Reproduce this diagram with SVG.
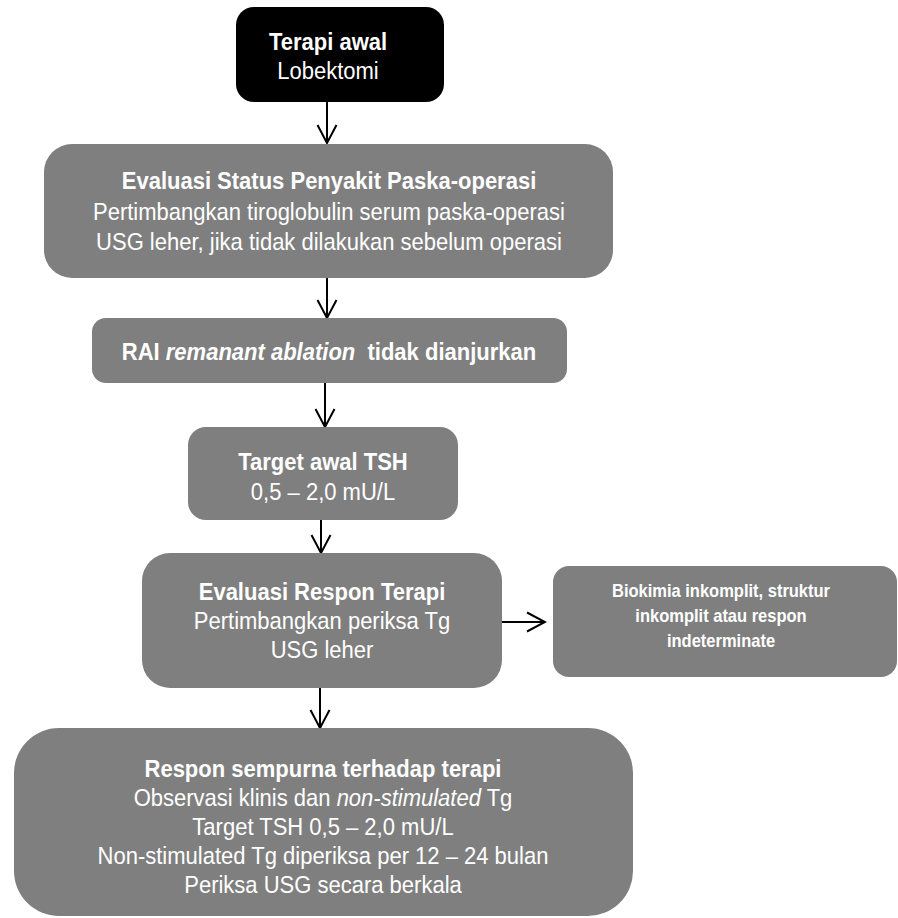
<svg xmlns="http://www.w3.org/2000/svg" width="898" height="918" viewBox="0 0 898 918">
  <defs>
    <marker id="arr" viewBox="0 0 22 22" markerWidth="22" markerHeight="22" refX="20" refY="11" orient="auto" markerUnits="userSpaceOnUse">
      <path d="M2,1.5 L20,11 L2,20.5" fill="none" stroke="#000" stroke-width="2"/>
    </marker>
  </defs>
  <style>
    .box { fill: #7f7f7f; }
    .dark { fill: #000; }
    text { font-family: "Liberation Sans", Arial, sans-serif; fill: #fff; text-anchor: middle; font-size: 24px; }
    .b { font-weight: bold; }
    .i { font-style: italic; }
    .small { font-size: 18px; font-weight: bold; }
    .conn line { stroke: #000; stroke-width: 2; marker-end: url(#arr); }
  </style>
  <rect width="898" height="918" fill="#fff"/>

  <g id="connectors" class="conn">
    <line x1="327" y1="101" x2="327" y2="143"/>
    <line x1="327" y1="278" x2="327" y2="318"/>
    <line x1="325" y1="383" x2="325" y2="427"/>
    <line x1="321" y1="520" x2="321" y2="553"/>
    <line x1="502" y1="622" x2="545" y2="622"/>
    <line x1="320" y1="688" x2="320" y2="728"/>
  </g>

  <g id="n1">
    <rect class="dark" x="236" y="7" width="208" height="95" rx="18"/>
    <g transform="translate(328 0) scale(0.917 1)">
      <text x="0" y="50" class="b">Terapi awal</text>
      <text x="0" y="79">Lobektomi</text>
    </g>
  </g>

  <g id="n2">
    <rect class="box" x="44" y="144" width="569" height="134" rx="28"/>
    <g transform="translate(329 0) scale(0.917 1)">
      <text x="0" y="189" class="b">Evaluasi Status Penyakit Paska-operasi</text>
      <text x="0" y="220">Pertimbangkan tiroglobulin serum paska-operasi</text>
      <text x="0" y="250">USG leher, jika tidak dilakukan sebelum operasi</text>
    </g>
  </g>

  <g id="n3">
    <rect class="box" x="92" y="318" width="475" height="65" rx="14"/>
    <g transform="translate(329 0) scale(0.917 1)">
      <text x="0" y="360" class="b" xml:space="preserve">RAI <tspan class="i">remanant ablation</tspan>  tidak dianjurkan</text>
    </g>
  </g>

  <g id="n4">
    <rect class="box" x="188" y="427" width="270" height="93" rx="18"/>
    <g transform="translate(323 0) scale(0.917 1)">
      <text x="0" y="470" class="b">Target awal TSH</text>
      <text x="0" y="500">0,5 – 2,0 mU/L</text>
    </g>
  </g>

  <g id="n5">
    <rect class="box" x="142" y="553" width="360" height="135" rx="28"/>
    <g transform="translate(322 0) scale(0.917 1)">
      <text x="0" y="600" class="b">Evaluasi Respon Terapi</text>
      <text x="0" y="629">Pertimbangkan periksa Tg</text>
      <text x="0" y="658">USG leher</text>
    </g>
  </g>

  <g id="n6">
    <rect class="box" x="553" y="566" width="344" height="111" rx="16"/>
    <g transform="translate(721 0) scale(0.917 1)">
      <text x="0" y="597" class="small">Biokimia inkomplit, struktur</text>
      <text x="0" y="622" class="small">inkomplit atau respon</text>
      <text x="0" y="647" class="small">indeterminate</text>
    </g>
  </g>

  <g id="n7">
    <rect class="box" x="14" y="728" width="619" height="188" rx="45"/>
    <g transform="translate(323 0) scale(0.917 1)">
      <text x="0" y="777" class="b">Respon sempurna terhadap terapi</text>
      <text x="0" y="806">Observasi klinis dan <tspan class="i">non-stimulated</tspan> Tg</text>
      <text x="0" y="835">Target TSH 0,5 – 2,0 mU/L</text>
      <text x="0" y="864">Non-stimulated Tg diperiksa per 12 – 24 bulan</text>
      <text x="0" y="893">Periksa USG secara berkala</text>
    </g>
  </g>
</svg>
